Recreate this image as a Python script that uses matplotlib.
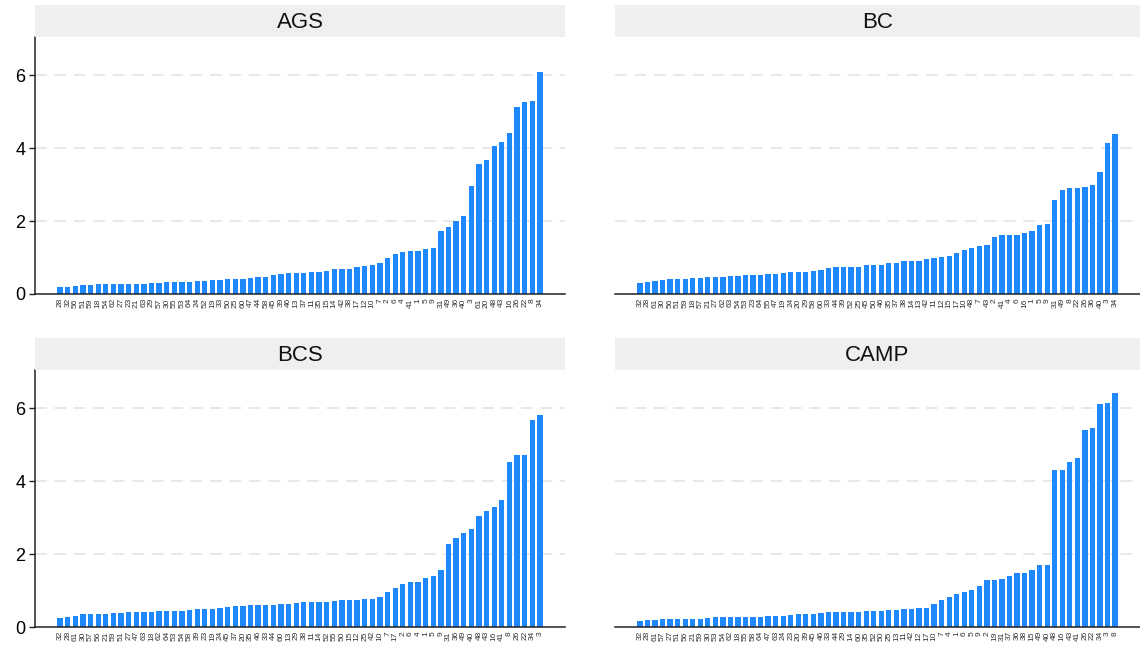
import numpy as np
import matplotlib
matplotlib.use("Agg")
import matplotlib.pyplot as plt

plt.rcParams['font.family'] = ['Liberation Sans', 'DejaVu Sans']

# --- data ---
ags_ids = [28, 32, 56, 51, 59, 18, 54, 62, 27, 23, 21, 63, 29, 57, 30, 55, 53, 64, 24, 52,
           19, 33, 50, 25, 60, 47, 44, 58, 45, 39, 46, 13, 37, 11, 35, 15, 14, 42, 38, 17,
           12, 10, 7, 2, 6, 4, 41, 1, 5, 9, 31, 49, 36, 40, 3, 61, 20, 48, 43, 16,
           26, 22, 8, 34]
ags_vals = [0.20, 0.20, 0.23, 0.26, 0.26, 0.28, 0.28, 0.28, 0.28, 0.28, 0.28, 0.28, 0.31, 0.31,
            0.32, 0.34, 0.34, 0.34, 0.37, 0.37, 0.39, 0.39, 0.42, 0.42, 0.42, 0.45, 0.46, 0.47,
            0.53, 0.56, 0.57, 0.58, 0.58, 0.61, 0.61, 0.64, 0.69, 0.69, 0.69, 0.75, 0.78, 0.80,
            0.86, 1.00, 1.09, 1.16, 1.19, 1.19, 1.24, 1.27, 1.74, 1.84, 2.01, 2.15, 2.97, 3.57,
            3.68, 4.06, 4.17, 4.42, 5.13, 5.27, 5.30, 6.09]

bc_ids = [32, 28, 61, 30, 56, 51, 59, 18, 57, 21, 27, 62, 63, 54, 53, 23, 64, 55, 47, 19,
          24, 20, 29, 58, 60, 33, 44, 39, 52, 25, 45, 50, 46, 35, 37, 38, 14, 13, 42, 11,
          12, 15, 17, 10, 48, 7, 43, 2, 41, 4, 6, 16, 1, 5, 9, 31, 49, 8, 22, 26,
          36, 40, 3, 34]
bc_vals = [0.31, 0.34, 0.37, 0.39, 0.42, 0.42, 0.42, 0.45, 0.45, 0.47, 0.47, 0.47, 0.50, 0.50,
           0.53, 0.53, 0.53, 0.56, 0.56, 0.58, 0.59, 0.61, 0.61, 0.64, 0.67, 0.72, 0.75, 0.75,
           0.75, 0.75, 0.80, 0.80, 0.80, 0.86, 0.86, 0.91, 0.91, 0.91, 0.97, 1.00, 1.02, 1.05,
           1.13, 1.21, 1.27, 1.32, 1.35, 1.57, 1.63, 1.63, 1.63, 1.68, 1.74, 1.90, 1.93, 2.58,
           2.86, 2.91, 2.91, 2.94, 3.00, 3.35, 4.15, 4.39]

bcs_ids = [32, 28, 61, 30, 57, 56, 21, 59, 51, 27, 47, 63, 18, 62, 64, 53, 54, 58, 39, 23,
           19, 24, 45, 37, 20, 35, 46, 33, 44, 60, 13, 29, 38, 11, 14, 52, 55, 50, 15, 12,
           25, 42, 10, 7, 17, 2, 6, 4, 1, 5, 9, 31, 36, 49, 40, 48, 43, 16, 41, 8,
           26, 22, 34, 3]
bcs_vals = [0.26, 0.28, 0.31, 0.37, 0.37, 0.37, 0.37, 0.39, 0.39, 0.42, 0.42, 0.42, 0.42, 0.45,
            0.45, 0.45, 0.45, 0.47, 0.50, 0.50, 0.50, 0.53, 0.56, 0.58, 0.58, 0.61, 0.61, 0.61,
            0.61, 0.64, 0.64, 0.67, 0.69, 0.69, 0.69, 0.69, 0.72, 0.75, 0.75, 0.75, 0.78, 0.78,
            0.83, 0.97, 1.08, 1.19, 1.24, 1.24, 1.35, 1.41, 1.57, 2.28, 2.45, 2.58, 2.69, 3.05,
            3.19, 3.30, 3.49, 4.53, 4.72, 4.72, 5.68, 5.82]

camp_ids = [32, 28, 61, 57, 27, 51, 56, 21, 59, 30, 53, 54, 62, 18, 55, 58, 64, 47, 63, 24,
            23, 20, 39, 45, 46, 33, 44, 29, 14, 60, 35, 52, 50, 25, 13, 11, 42, 12, 17, 10,
            7, 4, 1, 6, 5, 9, 2, 19, 31, 37, 36, 38, 15, 49, 40, 48, 16, 43, 41, 26,
            22, 34, 3, 8]
camp_vals = [0.17, 0.20, 0.20, 0.23, 0.23, 0.23, 0.23, 0.23, 0.23, 0.26, 0.28, 0.28, 0.28, 0.28,
             0.28, 0.28, 0.28, 0.31, 0.31, 0.31, 0.34, 0.37, 0.37, 0.37, 0.39, 0.42, 0.42, 0.42,
             0.42, 0.42, 0.45, 0.45, 0.45, 0.47, 0.47, 0.50, 0.50, 0.53, 0.53, 0.64, 0.75, 0.83,
             0.91, 0.97, 1.02, 1.13, 1.30, 1.30, 1.32, 1.41, 1.49, 1.49, 1.57, 1.71, 1.71, 4.31,
             4.31, 4.53, 4.64, 5.41, 5.46, 6.12, 6.15, 6.42]

panels = [("AGS", ags_ids, ags_vals), ("BC", bc_ids, bc_vals),
          ("BCS", bcs_ids, bcs_vals), ("CAMP", camp_ids, camp_vals)]

W, H = 1140, 648
fig = plt.figure(figsize=(W / 100, H / 100), dpi=100)

# pixel boxes (left, top, right, bottom) for each plotting area
boxes = [(35, 37, 565, 294), (615, 37, 1140, 294),
         (35, 370, 565, 627), (615, 370, 1140, 627)]
strip_h = 32
bar_col = "#1E88FF"

for i, (name, ids, vals) in enumerate(panels):
    l, t, r, b = boxes[i]
    ax = fig.add_axes([l / W, 1 - b / H, (r - l) / W, (b - t) / H])
    x = np.arange(len(vals))
    ax.bar(x, vals, width=0.7, color=bar_col, zorder=2)
    ax.set_xlim(-3.3, len(vals) + 2.3)
    ax.set_ylim(0, 7.05)
    ax.set_xticks(x)
    ax.set_xticklabels([str(v) for v in ids], rotation=90, fontsize=6, color="#333333")
    ax.tick_params(axis="x", length=0, pad=3)
    ax.set_yticks([0, 2, 4, 6])
    for yv in [2, 4, 6]:
        ax.axhline(yv, color="#e8e8e8", lw=1.4, ls=(0, (6, 4)), zorder=1)
    for s in ["top", "right"]:
        ax.spines[s].set_visible(False)
    ax.spines["bottom"].set_color("#222222")
    ax.spines["bottom"].set_linewidth(1.1)
    if i % 2 == 0:
        ax.spines["left"].set_color("#222222")
        ax.spines["left"].set_linewidth(1.1)
        ax.tick_params(axis="y", labelsize=13, length=4, width=1, color="#222222", pad=3)
    else:
        ax.spines["left"].set_visible(False)
        ax.tick_params(axis="y", left=False, labelleft=False)

    # facet strip
    sx = fig.add_axes([l / W, 1 - t / H, (r - l) / W, strip_h / H])
    sx.set_facecolor("#efefef")
    sx.set_xticks([])
    sx.set_yticks([])
    for s in sx.spines.values():
        s.set_visible(False)
    sx.text(0.5, 0.45, name, ha="center", va="center", fontsize=16, color="#111111",
            transform=sx.transAxes)

fig.savefig("out.png", dpi=100)
